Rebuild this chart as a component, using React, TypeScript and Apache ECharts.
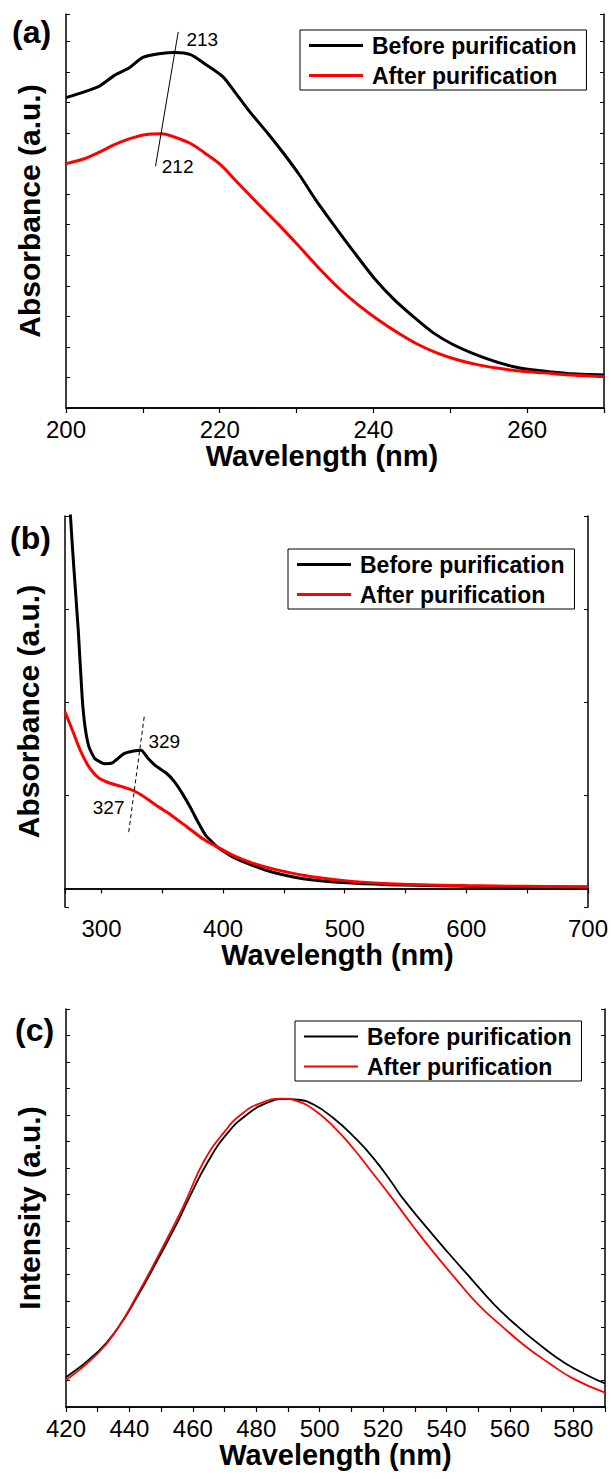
import React, { useEffect, useRef } from 'react';
import * as echarts from 'echarts';

const FONT = '"Liberation Sans", Arial, Helvetica, sans-serif';
const BLACK = '#000000';
const RED = '#ff0000';

// ---------- Panel (a): UV absorbance 200-270 nm ----------
const aBeforeX = [200, 204.2, 206.3, 208.3, 210, 212.4, 214.2, 216.2, 218, 220.4, 222.1, 224, 226.3, 228.3, 230.4, 232.4, 235, 237.6, 240.1, 242.7, 245.3, 247.8, 250.4, 253, 255.5, 258.1, 260.6, 263.2, 265.8, 270];
const aBeforeY = [1.016, 1.052, 1.089, 1.115, 1.148, 1.161, 1.164, 1.157, 1.128, 1.085, 1.03, 0.967, 0.898, 0.834, 0.762, 0.685, 0.594, 0.506, 0.425, 0.355, 0.297, 0.246, 0.207, 0.178, 0.155, 0.136, 0.125, 0.118, 0.112, 0.108];
const aAfterX = [200, 202.4, 204.2, 206.3, 208.3, 210.3, 212.4, 213.9, 216.2, 218, 220.1, 222.1, 224.7, 227.8, 230.4, 232.9, 235.5, 238.1, 240.6, 243.2, 245.8, 248.4, 250.9, 253.5, 256, 258.6, 262.2, 265.8, 270];
const aAfterY = [0.8, 0.816, 0.836, 0.862, 0.882, 0.895, 0.898, 0.889, 0.866, 0.836, 0.797, 0.744, 0.676, 0.597, 0.527, 0.458, 0.392, 0.336, 0.289, 0.246, 0.208, 0.179, 0.158, 0.142, 0.131, 0.122, 0.115, 0.108, 0.102];
const aMarkX = [214.6, 211.65];
const aMarkY = [1.231, 0.792];
const aMarkText = ['213', '212'];

// ---------- Panel (b): UV-vis absorbance 270-700 nm ----------
const bBeforeX = [273, 274.5, 277, 280.9, 284.1, 286.5, 289.7, 294.5, 302.5, 308.9, 318.5, 326.5, 332.8, 337.7, 344.1, 353.7, 360.1, 366.5, 372.9, 379.3, 385.7, 395.3, 408.1, 424.1, 440.1, 465.7, 498, 536.3, 600.3, 700];
const bBeforeY = [2.25, 2.0, 1.747, 1.387, 1.027, 0.867, 0.76, 0.697, 0.67, 0.674, 0.724, 0.738, 0.742, 0.703, 0.661, 0.617, 0.572, 0.509, 0.437, 0.357, 0.285, 0.222, 0.168, 0.124, 0.088, 0.052, 0.031, 0.02, 0.012, 0.007];
const bAfterX = [270, 276.1, 282.5, 288.9, 296.9, 306.5, 316.1, 325.7, 335.3, 344.9, 357.6, 370.4, 383.2, 395.3, 408.1, 424.1, 440.1, 465.7, 498, 536.3, 600.3, 700];
const bAfterY = [0.948, 0.849, 0.742, 0.661, 0.598, 0.566, 0.548, 0.527, 0.491, 0.446, 0.392, 0.33, 0.267, 0.222, 0.177, 0.136, 0.106, 0.07, 0.043, 0.025, 0.015, 0.007];
const bMarkX = [335.1, 322.4];
const bMarkY = [0.921, 0.303];
const bMarkText = ['329', '327'];

// ---------- Panel (c): PL intensity 420-590 nm ----------
const cBeforeX = [420, 430.1, 436.3, 442.5, 448.7, 454.9, 458.5, 464.8, 471, 477.1, 483.3, 488.9, 493.2, 498.1, 504.3, 510.5, 516.7, 522.8, 526, 532.8, 540.2, 547.6, 555, 562.4, 569.8, 577.2, 584.7, 590];
const cBeforeY = [0.112, 0.209, 0.297, 0.416, 0.55, 0.69, 0.78, 0.925, 1.033, 1.102, 1.146, 1.161, 1.158, 1.14, 1.089, 1.022, 0.942, 0.845, 0.79, 0.69, 0.586, 0.486, 0.387, 0.304, 0.231, 0.167, 0.118, 0.089];
const cAfterX = [420, 430.1, 436.3, 442.5, 448.7, 454.9, 457.9, 463.5, 469.7, 475.8, 482, 488.3, 493.2, 498.1, 504.3, 510.5, 516.7, 522.8, 529.1, 535.3, 542.7, 550.1, 557.6, 565, 572.4, 579.8, 590];
const cAfterY = [0.102, 0.203, 0.297, 0.423, 0.561, 0.705, 0.78, 0.926, 1.033, 1.108, 1.148, 1.162, 1.152, 1.121, 1.058, 0.976, 0.882, 0.788, 0.687, 0.592, 0.486, 0.385, 0.303, 0.228, 0.165, 0.108, 0.054];

const LEGEND_NAMES = ['Before purification', 'After purification'];
const PANEL_LABELS = ['(a)', '(b)', '(c)'];

const zip = (xs: number[], ys: number[]) => xs.map((x, i) => [x, ys[i]]);

const axisLine = { show: true, lineStyle: { color: BLACK, width: 1.5 } };

function xPair(grid: number, min: number, max: number, step: number, labelStep: number, nameGap: number, namePad: number[]) {
  const common = {
    gridIndex: grid,
    type: 'value' as const,
    min,
    max,
    minInterval: step,
    maxInterval: step,
    splitLine: { show: false },
    axisLine,
  };
  return [
    {
      ...common,
      position: 'bottom',
      axisTick: { show: true, inside: false, length: 5, lineStyle: { color: BLACK, width: 1.2 } },
      axisLabel: {
        show: true,
        margin: 9,
        color: BLACK,
        fontSize: 24,
        fontFamily: FONT,
        formatter: (v: number) => (Math.abs(v % labelStep) < 1e-6 ? String(v) : ''),
      },
      name: 'Wavelength (nm)',
      nameLocation: 'middle',
      nameGap,
      nameTextStyle: { color: BLACK, fontSize: 29, fontWeight: 'bold', fontFamily: FONT, padding: namePad },
    },
    {
      ...common,
      position: 'top',
      axisTick: { show: true, inside: true, length: 4, lineStyle: { color: BLACK, width: 1 } },
      axisLabel: { show: false },
    },
  ];
}

function yPair(grid: number, min: number, max: number, step: number, name: string) {
  const common = {
    gridIndex: grid,
    type: 'value' as const,
    min,
    max,
    minInterval: step,
    maxInterval: step,
    splitLine: { show: false },
    axisLine,
    axisLabel: { show: false },
    axisTick: { show: true, inside: true, length: 4, lineStyle: { color: BLACK, width: 1 } },
  };
  return [
    {
      ...common,
      position: 'left',
      name,
      nameLocation: 'middle',
      nameRotate: 90,
      nameGap: 22,
      nameTextStyle: { color: BLACK, fontSize: 30, fontWeight: 'bold', fontFamily: FONT },
    },
    { ...common, position: 'right' },
  ];
}

function curve(name: string, idx: number, data: number[][], color: string, width: number, smooth: number) {
  return {
    name,
    type: 'line',
    xAxisIndex: idx * 2,
    yAxisIndex: idx * 2,
    data,
    symbol: 'none',
    smooth,
    clip: true,
    lineStyle: { color, width },
    itemStyle: { color },
    z: 3,
  };
}

function legend(idx: number, left: number, top: number, lineW: number) {
  const suffix = ['', ' ', '  '][idx];
  return {
    orient: 'vertical',
    left,
    top,
    icon: 'rect',
    itemWidth: 54,
    itemHeight: lineW,
    itemGap: 7,
    padding: [4, 10, 3, 9],
    borderColor: BLACK,
    borderWidth: 1,
    borderRadius: 0,
    selectedMode: false,
    data: LEGEND_NAMES.map((n) => n + suffix),
    formatter: (n: string) => n.trim(),
    textStyle: { color: BLACK, fontSize: 23, fontWeight: 'bold', fontFamily: FONT, padding: [0, 0, 0, 4] },
  };
}

function marks(idx: number, xs: number[], ys: number[], texts: string[], dashed: boolean, labels: any[]) {
  return {
    name: 'mark' + idx,
    type: 'line',
    xAxisIndex: idx * 2,
    yAxisIndex: idx * 2,
    symbol: 'circle',
    symbolSize: 0.5,
    showSymbol: true,
    itemStyle: { color: BLACK },
    lineStyle: { color: BLACK, width: 1, type: dashed ? [4, 3] : 'solid' },
    data: xs.map((x, i) => ({
      value: [x, ys[i]],
      label: {
        show: true,
        formatter: texts[i],
        color: BLACK,
        fontSize: 19,
        fontFamily: FONT,
        ...labels[i],
      },
    })),
    z: 4,
  };
}

export default function App() {
  const ref = useRef<HTMLDivElement>(null);
  useEffect(() => {
    if (!ref.current) return;
    const chart = echarts.init(ref.current, null, { renderer: 'svg' });
    const option: any = {
      animation: false,
      backgroundColor: '#ffffff',
      title: [
        { text: PANEL_LABELS[0], left: 12, top: 16 },
        { text: PANEL_LABELS[1], left: 10, top: 522 },
        { text: PANEL_LABELS[2], left: 15, top: 1014 },
      ].map((t) => ({ ...t, padding: 0, textStyle: { color: BLACK, fontSize: 32, fontWeight: 'bold', fontFamily: FONT } })),
      grid: [
        { left: 66, top: 14, width: 538, height: 394 },
        { left: 65, top: 516, width: 529, height: 391 },
        { left: 66, top: 1009, width: 539, height: 398 },
      ],
      xAxis: [
        ...xPair(0, 200, 270, 10, 20, 32, [0, 26, 0, 0]),
        ...xPair(1, 270, 700, 50, 100, 27, [0, 0, 0, 22]),
        ...xPair(2, 420, 590, 10, 20, 27, [0, 0, 0, 0]),
      ],
      yAxis: [
        ...yPair(0, 0, 1.29, 0.1, 'Absorbance (a.u.)'),
        ...yPair(1, -0.1, 2.0, 0.5, 'Absorbance (a.u.)'),
        ...yPair(2, 0, 1.5, 0.1, 'Intensity (a.u.)'),
      ],
      legend: [legend(0, 300, 30, 3), legend(1, 288, 549, 3), legend(2, 295, 1021, 2)],
      series: [
        curve(LEGEND_NAMES[0], 0, zip(aBeforeX, aBeforeY), BLACK, 3, 0.25),
        curve(LEGEND_NAMES[1], 0, zip(aAfterX, aAfterY), RED, 3, 0.35),
        marks(0, aMarkX, aMarkY, aMarkText, false, [
          { position: 'right', offset: [3, 7] },
          { position: 'right', offset: [1, 0] },
        ]),
        curve(LEGEND_NAMES[0] + ' ', 1, zip(bBeforeX, bBeforeY), BLACK, 3, 0.15),
        curve(LEGEND_NAMES[1] + ' ', 1, zip(bAfterX, bAfterY), RED, 3, 0.2),
        marks(1, bMarkX, bMarkY, bMarkText, true, [
          { position: 'right', offset: [-1, 25] },
          { position: 'left', offset: [1, -24] },
        ]),
        curve(LEGEND_NAMES[0] + '  ', 2, zip(cBeforeX, cBeforeY), BLACK, 1.8, 0.5),
        curve(LEGEND_NAMES[1] + '  ', 2, zip(cAfterX, cAfterY), RED, 1.8, 0.5),
      ],
    };
    chart.setOption(option);
    return () => chart.dispose();
  }, []);
  return (
    <div
      ref={ref}
      style={{ position: 'absolute', left: 0, top: 0, width: 611, height: 1479, background: '#fff' }}
    />
  );
}
